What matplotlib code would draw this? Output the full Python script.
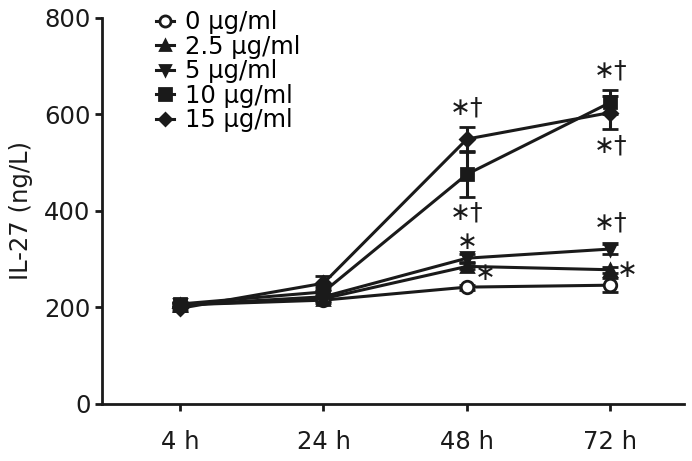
import matplotlib
matplotlib.use("Agg")
import matplotlib.pyplot as plt
from matplotlib.lines import Line2D

plt.rcParams['font.family'] = ['DejaVu Sans']

times = ["4 h", "24 h", "48 h", "72 h"]
labels = ["0 μg/ml", "2.5 μg/ml", "5 μg/ml", "10 μg/ml", "15 μg/ml"]
v0 = [205, 215, 242, 246]
v25 = [205, 218, 285, 278]
v5 = [205, 222, 302, 321]
v10 = [207, 232, 476, 625]
v15 = [198, 250, 549, 604]
e0 = [4, 5, 5, 14]
e25 = [4, 5, 6, 6]
e5 = [4, 5, 8, 10]
e10 = [5, 10, 47, 25]
e15 = [5, 15, 25, 35]
yticks = [0, 200, 400, 600, 800]

# annotations: (x index, y value, text)
annots = [
    (2, 615, "∗†"), (2, 396, "∗†"), (2, 336, "∗"), (2.13, 271, "∗"),
    (3, 692, "∗†"), (3, 535, "∗†"), (3, 377, "∗†"), (3.12, 278, "∗"),
]

C = '#1a1a1a'
fig = plt.figure(figsize=(6.92, 4.61), dpi=100)
ax = fig.add_axes([0.148, 0.124, 0.84, 0.837])
x = list(range(len(times)))
series = [(v0, e0, 'o', 'white', 9), (v25, e25, '^', C, 8),
          (v5, e5, 'v', C, 8), (v10, e10, 's', C, 9),
          (v15, e15, 'D', C, 7)]
handles = []
for (vals, errs, m, fc, ms), lab in zip(series, labels):
    ax.errorbar(x, vals, yerr=errs, color=C, lw=2.2, marker=m,
                markerfacecolor=fc, markeredgecolor=C, markeredgewidth=2,
                ms=ms, capsize=6, capthick=2.2, elinewidth=2.2)
    handles.append(Line2D([], [], color=C, lw=2.2, marker=m, markerfacecolor=fc,
                          markeredgecolor=C, markeredgewidth=2, ms=ms - 1))

for xi, yv, t in annots:
    ax.text(xi, yv, t, ha='center', va='center', fontsize=18, color=C)

ax.set_xlim(-0.54, 3.51)
ax.set_ylim(0, 800)
ax.set_yticks(yticks)
ax.set_xticks(x)
ax.set_xticklabels(times)
ax.tick_params(labelsize=17.5, width=2, length=5, color=C, labelcolor=C)
ax.tick_params(axis='x', pad=14)
for s in ['top', 'right']:
    ax.spines[s].set_visible(False)
for s in ['left', 'bottom']:
    ax.spines[s].set_linewidth(2)
    ax.spines[s].set_color(C)
ax.set_ylabel("IL-27 (ng/L)", fontsize=17.5, color=C, labelpad=8)

leg = ax.legend(handles, labels, loc='upper left', bbox_to_anchor=(0.075, 1.045),
                frameon=False, fontsize=17.5, handlelength=0.75, handletextpad=0.45,
                labelspacing=0.02, borderaxespad=0)
fig.savefig("out.png", dpi=100)
